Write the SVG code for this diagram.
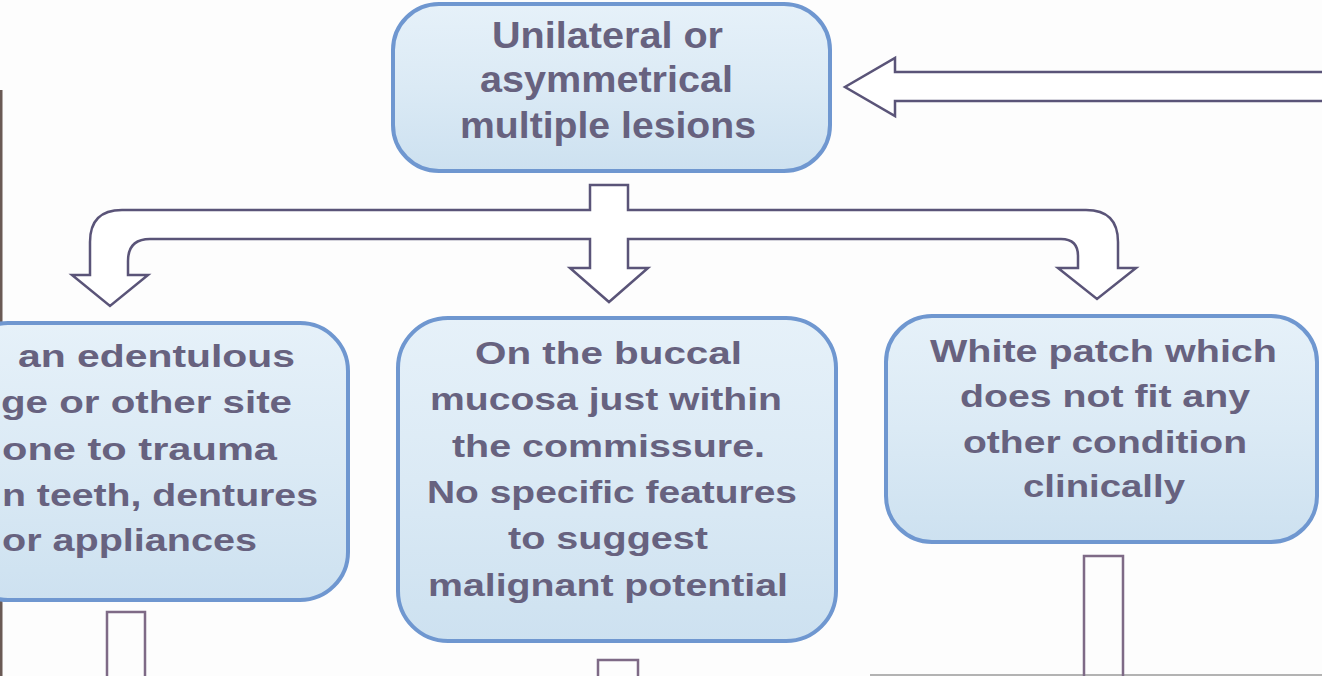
<svg xmlns="http://www.w3.org/2000/svg" width="1322" height="676" viewBox="0 0 1322 676">
  <defs>
    <linearGradient id="boxFill" x1="0" y1="0" x2="0" y2="1">
      <stop offset="0" stop-color="#e6f1f9"/>
      <stop offset="0.5" stop-color="#dbeaf5"/>
      <stop offset="1" stop-color="#cde1f0"/>
    </linearGradient>
    <style>
      .box { fill: url(#boxFill); stroke: #6f97d0; stroke-width: 4; }
      .lbl { font-family: "Liberation Sans", Arial, sans-serif; font-weight: bold; fill: #67627f; }
      .t36 { font-size: 36px; }
      .t32 { font-size: 32px; }
      .t31 { font-size: 31px; }
      .arrow { fill: #ffffff; stroke: #5a5478; stroke-width: 2.5; stroke-linejoin: miter; }
      .stub { fill: none; stroke: #7e6a86; stroke-width: 2.5; }
    </style>
  </defs>

  <rect x="0" y="0" width="1322" height="676" fill="#fdfdfd"/>
  <rect x="0" y="90" width="2.5" height="586" fill="#6a5a55"/>
  <line x1="870" y1="675" x2="1322" y2="675" stroke="#9a9a9a" stroke-width="1.5"/>

  <g id="connectors">
    <path class="arrow" d="M 1330 72 H 895 V 58 L 845 87 L 895 116 V 101 H 1330 Z"/>
    <path class="arrow" d="M 590 185 H 628 V 210 H 1086 Q 1118 210 1118 242 V 268 H 1136 L 1097 299 L 1058 268 H 1078 V 256 Q 1078 239 1061 239 H 628 V 268 H 648 L 609 302 L 570 268 H 590 V 239 H 150 Q 128 239 128 261 V 275 H 148 L 110 306 L 72 275 H 90 V 242 Q 90 210 122 210 H 590 Z"/>
    <path class="stub" d="M 107 678 V 612 H 145 V 678"/>
    <path class="stub" d="M 598 678 V 660 H 638 V 678"/>
    <path class="stub" d="M 1084 678 V 556 H 1123 V 678"/>
  </g>

  <g id="node-top">
    <rect class="box" x="393" y="4" width="437" height="167" rx="46" ry="46"/>
    <text class="lbl t36" x="492" y="48" textLength="231" lengthAdjust="spacingAndGlyphs">Unilateral or</text>
    <text class="lbl t36" x="480" y="92" textLength="253" lengthAdjust="spacingAndGlyphs">asymmetrical</text>
    <text class="lbl t36" x="460" y="138" textLength="296" lengthAdjust="spacingAndGlyphs">multiple lesions</text>
  </g>

  <g id="node-left">
    <rect class="box" x="-40" y="323" width="388" height="277" rx="48" ry="48"/>
    <text class="lbl t31" x="18" y="367" textLength="277" lengthAdjust="spacingAndGlyphs">an edentulous</text>
    <text class="lbl t31" x="1" y="413" textLength="291" lengthAdjust="spacingAndGlyphs">ge or other site</text>
    <text class="lbl t31" x="2" y="460" textLength="275" lengthAdjust="spacingAndGlyphs">one to trauma</text>
    <text class="lbl t31" x="2" y="506" textLength="316" lengthAdjust="spacingAndGlyphs">n teeth, dentures</text>
    <text class="lbl t31" x="2" y="551" textLength="255" lengthAdjust="spacingAndGlyphs">or appliances</text>
  </g>

  <g id="node-middle">
    <rect class="box" x="398" y="318" width="438" height="323" rx="50" ry="50"/>
    <text class="lbl t31" x="475" y="364" textLength="267" lengthAdjust="spacingAndGlyphs">On the buccal</text>
    <text class="lbl t31" x="430" y="410" textLength="352" lengthAdjust="spacingAndGlyphs">mucosa just within</text>
    <text class="lbl t31" x="452" y="457" textLength="313" lengthAdjust="spacingAndGlyphs">the commissure.</text>
    <text class="lbl t31" x="427" y="503" textLength="370" lengthAdjust="spacingAndGlyphs">No specific features</text>
    <text class="lbl t31" x="508" y="549" textLength="200" lengthAdjust="spacingAndGlyphs">to suggest</text>
    <text class="lbl t31" x="428" y="596" textLength="360" lengthAdjust="spacingAndGlyphs">malignant potential</text>
  </g>

  <g id="node-right">
    <rect class="box" x="886" y="316" width="431" height="226" rx="46" ry="46"/>
    <text class="lbl t32" x="930" y="362" textLength="347" lengthAdjust="spacingAndGlyphs">White patch which</text>
    <text class="lbl t32" x="960" y="407" textLength="290" lengthAdjust="spacingAndGlyphs">does not fit any</text>
    <text class="lbl t32" x="963" y="453" textLength="284" lengthAdjust="spacingAndGlyphs">other condition</text>
    <text class="lbl t32" x="1023" y="497" textLength="162" lengthAdjust="spacingAndGlyphs">clinically</text>
  </g>
</svg>
